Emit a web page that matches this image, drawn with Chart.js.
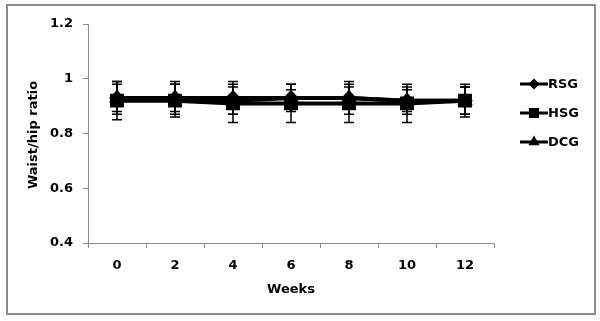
<!DOCTYPE html>
<html lang="en">
<head>
    <meta charset="UTF-8">
    <title>Waist/hip ratio by week</title>
    <script src="https://cdn.jsdelivr.net/npm/chart.js"></script>
    <style>
        body { margin: 0; background: #fff; }
        #wrap { width: 600px; height: 321px; position: relative; }
    </style>
</head>
<body>
    <div id="wrap"><canvas id="myChart" width="600" height="321"></canvas></div>
    <script>
        // data
        const weeks = ['0', '2', '4', '6', '8', '10', '12'];
        const seriesNames = ['RSG', 'HSG', 'DCG'];
        const rsgValues = [0.93, 0.93, 0.93, 0.93, 0.93, 0.92, 0.92];
        const hsgValues = [0.92, 0.92, 0.91, 0.91, 0.91, 0.91, 0.92];
        const dcgValues = [0.93, 0.93, 0.92, 0.93, 0.93, 0.92, 0.92];
        const rsgErrors = [0.06, 0.06, 0.06, 0.05, 0.06, 0.05, 0.05];
        const hsgErrors = [0.07, 0.06, 0.07, 0.07, 0.07, 0.07, 0.06];
        const dcgErrors = [0.05, 0.05, 0.05, 0.03, 0.04, 0.04, 0.05];
        const yTicks = [0.4, 0.6, 0.8, 1, 1.2];

        const FONT = "'DejaVu Sans', Arial, sans-serif";

        // error bars, drawn through the chart's scales
        const errorBars = {
            id: 'errorBars',
            afterDatasetsDraw(chart) {
                const ctx = chart.ctx;
                const x = chart.scales.x, y = chart.scales.y;
                ctx.save();
                ctx.strokeStyle = '#000';
                ctx.lineWidth = 1.5;
                chart.data.datasets.forEach(ds => {
                    ds.data.forEach((v, i) => {
                        const e = ds.errors[i];
                        const px = x.getPixelForValue(i);
                        const top = y.getPixelForValue(v + e);
                        const bot = y.getPixelForValue(v - e);
                        ctx.beginPath();
                        ctx.moveTo(px, top); ctx.lineTo(px, bot);
                        ctx.moveTo(px - 5, top); ctx.lineTo(px + 5, top);
                        ctx.moveTo(px - 5, bot); ctx.lineTo(px + 5, bot);
                        ctx.stroke();
                    });
                });
                ctx.restore();
            }
        };

        // outer frame, axis titles and legend
        const decorations = {
            id: 'decorations',
            afterDraw(chart) {
                const ctx = chart.ctx;
                const area = chart.chartArea;
                ctx.save();
                ctx.strokeStyle = '#8c8c8c';
                ctx.lineWidth = 2;
                ctx.strokeRect(7, 5, 588, 309);

                ctx.fillStyle = '#000';
                ctx.font = 'bold 13px ' + FONT;
                ctx.textAlign = 'center';
                ctx.textBaseline = 'middle';
                ctx.fillText('Weeks', (area.left + area.right) / 2, 290);

                ctx.translate(34, 135);
                ctx.rotate(-Math.PI / 2);
                ctx.fillText('Waist/hip ratio', 0, 0);
                ctx.restore();

                ctx.save();
                ctx.font = 'bold 13px ' + FONT;
                ctx.textBaseline = 'middle';
                ctx.textAlign = 'left';
                chart.data.datasets.forEach((ds, i) => {
                    const ly = 84 + i * 29;
                    ctx.strokeStyle = '#000';
                    ctx.lineWidth = 3;
                    ctx.beginPath();
                    ctx.moveTo(520, ly); ctx.lineTo(548, ly);
                    ctx.stroke();
                    ctx.fillStyle = '#000';
                    ctx.strokeStyle = '#000';
                    Chart.helpers.drawPoint(ctx, {
                        pointStyle: ds.pointStyle,
                        radius: ds.pointStyle === 'rect' ? 5 : 3.5,
                        borderWidth: 1
                    }, 534, ly);
                    ctx.fillText(ds.label, 548, ly + 1);
                });
                ctx.restore();
            }
        };

        function makeSet(label, values, errors, style, radius, order) {
            return {
                label: label,
                data: values,
                errors: errors,
                order: order,
                borderColor: '#000',
                backgroundColor: '#000',
                borderWidth: 4,
                pointStyle: style,
                pointRadius: radius,
                pointBorderColor: '#000',
                pointBackgroundColor: '#000',
                tension: 0
            };
        }

        const ctx = document.getElementById('myChart').getContext('2d');
        const myChart = new Chart(ctx, {
            type: 'line',
            data: {
                labels: weeks,
                datasets: [
                    makeSet(seriesNames[0], rsgValues, rsgErrors, 'rectRot', 5, 2),
                    makeSet(seriesNames[1], hsgValues, hsgErrors, 'rect', 7, 0),
                    makeSet(seriesNames[2], dcgValues, dcgErrors, 'triangle', 5, 1)
                ]
            },
            options: {
                responsive: false,
                animation: false,
                layout: { padding: { left: 0, right: 106, top: 24, bottom: 0 } },
                plugins: {
                    legend: { display: false },
                    tooltip: { enabled: false }
                },
                scales: {
                    x: {
                        type: 'category',
                        offset: true,
                        grid: { offset: true, drawOnChartArea: false, color: '#8c8c8c', tickLength: 5 },
                        border: { color: '#8c8c8c', width: 1 },
                        ticks: { color: '#000', font: { family: FONT, size: 13, weight: 'bold' }, padding: 10 },
                        afterFit(scale) { scale.height = 78; }
                    },
                    y: {
                        min: 0.4,
                        max: 1.2,
                        afterBuildTicks(scale) { scale.ticks = yTicks.map(v => ({ value: v })); },
                        grid: { drawOnChartArea: false, color: '#8c8c8c', tickLength: 5 },
                        border: { color: '#8c8c8c', width: 1 },
                        ticks: {
                            color: '#000',
                            font: { family: FONT, size: 13, weight: 'bold' },
                            padding: 10,
                            callback: v => String(Math.round(v * 10) / 10)
                        },
                        afterFit(scale) { scale.width = 88; }
                    }
                }
            },
            plugins: [errorBars, decorations]
        });
    </script>
</body>
</html>
